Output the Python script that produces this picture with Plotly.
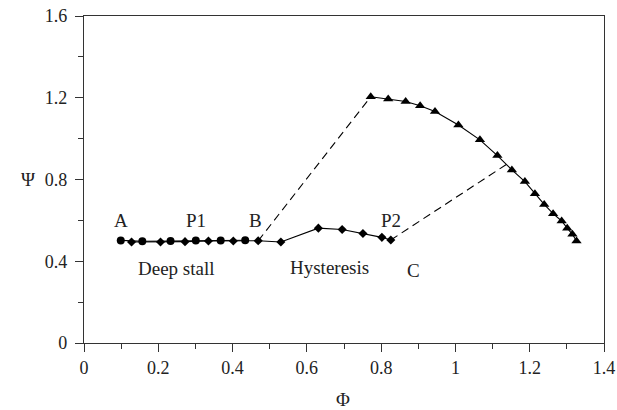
import plotly.graph_objects as go

# Deep stall (circles)
circ_x = [0.099, 0.157, 0.233, 0.301, 0.368, 0.434]
circ_y = [0.502, 0.498, 0.499, 0.501, 0.501, 0.503]
# Hysteresis path (diamonds)
dia_x = [0.128, 0.206, 0.272, 0.335, 0.402, 0.469, 0.530, 0.631, 0.695, 0.751, 0.802, 0.826]
dia_y = [0.494, 0.494, 0.496, 0.499, 0.499, 0.500, 0.494, 0.562, 0.555, 0.536, 0.517, 0.504]
# Unstalled characteristic (triangles)
tri_x = [0.772, 0.819, 0.866, 0.905, 0.945, 1.008, 1.066, 1.113, 1.152, 1.187, 1.214,
         1.239, 1.263, 1.286, 1.301, 1.315, 1.326]
tri_y = [1.205, 1.194, 1.182, 1.161, 1.133, 1.067, 0.994, 0.917, 0.847, 0.790, 0.730,
         0.678, 0.633, 0.597, 0.562, 0.532, 0.499]
# Jumps (dashed)
jump1_x = [0.469, 0.772]
jump1_y = [0.500, 1.205]
jump2_x = [0.826, 1.140]
jump2_y = [0.504, 0.877]

labels = ["A", "P1", "B", "P2", "C", "Deep stall", "Hysteresis"]
label_x = [0.099, 0.302, 0.463, 0.827, 0.886, 0.249, 0.660]
label_y = [0.598, 0.598, 0.598, 0.598, 0.356, 0.366, 0.371]

FONT = "Liberation Serif"
INK = "#222222"

fig = go.Figure()
fig.add_trace(go.Scatter(x=jump1_x, y=jump1_y, mode="lines",
                         line=dict(color="black", width=1.1, dash="8px,5px")))
fig.add_trace(go.Scatter(x=jump2_x, y=jump2_y, mode="lines",
                         line=dict(color="black", width=1.1, dash="8px,5px")))
fig.add_trace(go.Scatter(x=dia_x, y=dia_y, mode="lines+markers",
                         line=dict(color="black", width=1.1),
                         marker=dict(symbol="diamond", size=7, color="black")))
fig.add_trace(go.Scatter(x=circ_x, y=circ_y, mode="lines+markers",
                         line=dict(color="black", width=1.1),
                         marker=dict(symbol="circle", size=8, color="black")))
fig.add_trace(go.Scatter(x=tri_x, y=tri_y, mode="lines+markers",
                         line=dict(color="black", width=1.1),
                         marker=dict(symbol="triangle-up", size=9, color="black")))

for t, x, y in zip(labels, label_x, label_y):
    fig.add_annotation(x=x, y=y, text=t, showarrow=False, xanchor="center", yanchor="middle",
                       font=dict(family=FONT, size=19, color=INK))

fig.add_annotation(x=0.498, y=-0.174, xref="paper", yref="paper", text="Φ", showarrow=False,
                   xanchor="center", yanchor="middle", font=dict(family=FONT, size=19, color=INK))
fig.add_annotation(x=-0.108, y=0.50, xref="paper", yref="paper", text="Ψ", showarrow=False,
                   xanchor="center", yanchor="middle", font=dict(family=FONT, size=19, color=INK))

axis_common = dict(showgrid=False, zeroline=False, showline=True, linecolor="#333333",
                   linewidth=1.3, mirror=True, ticks="outside", ticklen=8, tickwidth=1.2,
                   tickcolor="#333333", automargin=False,
                   tickfont=dict(family=FONT, size=18, color=INK))
fig.update_xaxes(range=[0, 1.4], dtick=0.2, tick0=0,
                 minor=dict(dtick=0.1, ticks="outside", ticklen=5, tickcolor="#333333", tickwidth=1.2),
                 **axis_common)
fig.update_yaxes(range=[0, 1.6], dtick=0.4, tick0=0, ticklabelstandoff=4,
                 minor=dict(dtick=0.2, ticks="outside", ticklen=5, tickcolor="#333333", tickwidth=1.2),
                 **axis_common)

fig.update_layout(width=617, height=410, margin=dict(l=84, r=13, t=16, b=67),
                  plot_bgcolor="white", paper_bgcolor="white", showlegend=False)

fig.write_html("out.html")
